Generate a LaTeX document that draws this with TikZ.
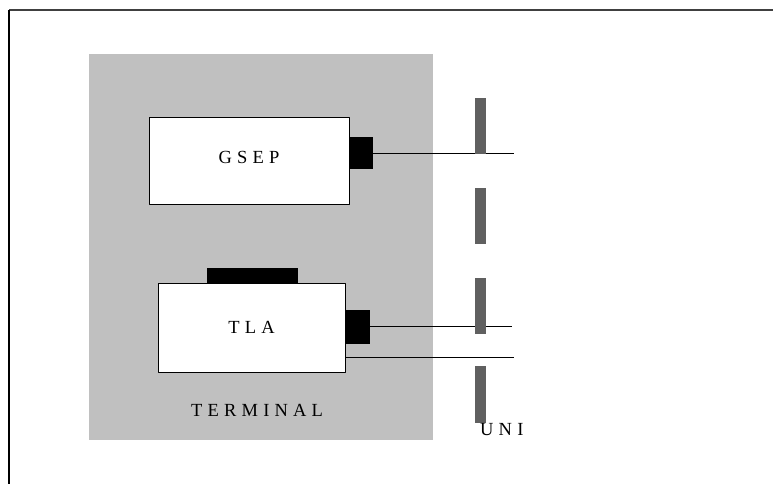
\documentclass[tikz,border=0pt]{standalone}
\usepackage{fontspec}
\newfontfamily\diagfont[LetterSpace=28]{Liberation Serif}
\usepackage{tikz}
\usetikzlibrary{positioning}
\definecolor{termgray}{HTML}{C0C0C0}
\definecolor{bargray}{HTML}{606060}
\definecolor{framegray}{HTML}{404040}
\tikzset{
  every picture/.style={line join=round, x=1pt, y=-1pt},
  termarea/.style={fill=termgray, draw=none, inner sep=0pt},
  unitbox/.style={draw=black, fill=white, line width=1pt, inner sep=0pt},
  port/.style={fill=black, draw=none, inner sep=0pt},
  unibar/.style={fill=bargray, draw=none, inner sep=0pt, minimum width=11, minimum height=56},
  wire/.style={line width=1pt},
  lbl/.style={font=\diagfont\fontsize{18.5}{20}\selectfont, inner sep=0pt},
}

\begin{document}
\begin{tikzpicture}
\useasboundingbox (0,0) rectangle (773,484);
% frame
\draw[line width=2, framegray] (9,10)--(773,10);
\draw[line width=2] (9,10)--(9,484);
% terminal
\node[termarea, minimum width=344, minimum height=386] (terminal) at (261,247) {};
\node[lbl, anchor=west] (termlbl) at (191,410) {TERMINAL};
% units
\node[unitbox, minimum width=200, minimum height=86] (gsep) at (249,161) {};
\node[lbl] (gseplbl) at (249,157) {GSEP};
\node[unitbox, minimum width=187, minimum height=89, lbl] (tla) at (251.5,327.5) {TLA};
\node[port, minimum width=91, minimum height=15] (tlatop) at (252.5,275.5) {};
\node[port, minimum width=23, minimum height=32] (gsepport) at (361.5,153) {};
\node[port, minimum width=25, minimum height=34] (tlaport) at (357.5,327) {};
% wires
\coordinate (gsepend) at (514,153);
\coordinate (tlaend) at (512,326);
\coordinate (tlaendb) at (514,357);
\draw[wire] (gsepport.east|-gsepend)--(gsepend);
\draw[wire] (tlaport.east|-tlaend)--(tlaend);
\draw[wire] (tla.east|-tlaendb)--(tlaendb);
% uni
\node[unibar] (bara) at (480.5,126) {};
\node[unibar] (barb) at (480.5,216) {};
\node[unibar] (barc) at (480.5,305.5) {};
\node[unibar, minimum height=57] (bard) at (480.5,394.5) {};
\node[lbl, anchor=west] (unilbl) at (480,430) {UNI};
\end{tikzpicture}
\end{document}
